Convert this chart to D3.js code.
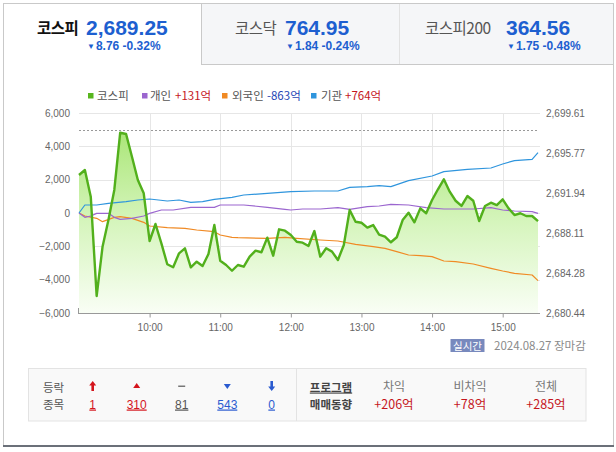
<!DOCTYPE html>
<html><head><meta charset="utf-8">
<script src="https://cdn.jsdelivr.net/npm/d3@7"></script>
<style>
html,body{margin:0;padding:0;background:#fff;}
svg{display:block;}
text{font-family:"Liberation Sans",Arial,sans-serif;}
.kr{font-family:"Noto Sans CJK KR","Noto Sans",sans-serif;}
</style></head><body>
<svg id="c" width="616" height="452"></svg>
<script>
// ---------------- DATA ----------------
const tabNames = ["코스피", "코스닥", "코스피200"];
const tabValues = ["2,689.25", "764.95", "364.56"];
const tabChanges = ["8.76 -0.32%", "1.84 -0.24%", "1.75 -0.48%"];

const legendNames = ["코스피", "개인", "외국인", "기관"];
const legendAmounts = ["", "+131억", "-863억", "+764억"];

const prevClose = 2698.01;
const leftTicks = [-6000, -4000, -2000, 0, 2000, 4000, 6000];
const rightTicks = [2680.44, 2684.28, 2688.11, 2691.94, 2695.77, 2699.61];
const xTickLabels = ["10:00", "11:00", "12:00", "13:00", "14:00", "15:00"];

const kospiTimes = ["09:00","09:05","09:10","09:15","09:20","09:25","09:30","09:35","09:40","09:45","09:50","09:55",
"10:00","10:05","10:10","10:15","10:20","10:25","10:30","10:35","10:40","10:45","10:50","10:55",
"11:00","11:05","11:10","11:15","11:20","11:25","11:30","11:35","11:40","11:45","11:50","11:55",
"12:00","12:05","12:10","12:15","12:20","12:25","12:30","12:35","12:40","12:45","12:50","12:55",
"13:00","13:05","13:10","13:15","13:20","13:25","13:30","13:35","13:40","13:45","13:50","13:55",
"14:00","14:05","14:10","14:15","14:20","14:25","14:30","14:35","14:40","14:45","14:50","14:55",
"15:00","15:05","15:10","15:15","15:20","15:25","15:30"];
const kospiValues = [2693.67,2694.15,2691.59,2682.07,2686.79,2689.35,2692.23,2697.72,2697.60,2695.42,2693.19,2691.91,
2687.34,2688.97,2687.12,2685.11,2684.82,2686.16,2686.64,2684.82,2685.36,2684.94,2686.09,2688.87,
2685.45,2685.04,2684.49,2685.04,2684.88,2685.84,2686.41,2686.26,2687.66,2685.93,2688.46,2688.33,
2687.92,2687.27,2687.18,2686.86,2688.30,2685.84,2686.64,2686.32,2685.52,2686.96,2690.31,2689.19,
2689.09,2688.62,2688.87,2687.96,2687.75,2687.22,2687.70,2689.35,2690.05,2689.13,2690.47,2690.00,
2691.27,2692.30,2693.25,2692.07,2691.20,2690.70,2691.65,2691.20,2689.26,2690.70,2691.01,2690.79,
2691.34,2690.47,2689.83,2690.00,2689.74,2689.74,2689.25];

const instTimes = ["09:00","09:05","09:15","09:25","09:40","09:50","10:00","10:15","10:25","10:35","10:45","10:55","11:10","11:20","11:40","12:00","12:20","12:40","12:50","13:05","13:15","13:25","13:40","14:00","14:10","14:30","14:50","15:00","15:10","15:25","15:30"];
const instValues = [0,480,480,580,680,780,840,720,780,640,680,820,940,1080,1180,1280,1320,1320,1540,1580,1640,1580,1940,2220,2480,2620,2700,2940,3140,3220,3620];

const indivTimes = ["09:00","09:05","09:10","09:15","09:25","09:30","09:35","09:45","09:55","10:00","10:10","10:20","10:35","10:55","11:00","11:20","11:40","11:55","12:00","12:10","12:25","12:40","12:50","13:05","13:15","13:25","13:40","13:55","14:10","14:35","14:50","15:00","15:10","15:25","15:30"];
const indivValues = [0,-260,-180,-20,-20,-260,-380,-320,-180,-20,180,180,340,340,480,480,340,220,180,240,240,320,220,380,420,520,480,320,240,240,320,180,120,80,-20];

const foreignTimes = ["09:00","09:05","09:15","09:20","09:30","09:35","09:45","09:55","10:00","10:15","10:30","10:40","10:55","11:00","11:10","11:15","11:40","11:55","12:05","12:25","12:40","12:55","13:10","13:20","13:30","13:40","13:50","14:00","14:10","14:20","14:35","14:50","15:00","15:10","15:25","15:30"];
const foreignValues = [0,-180,-320,-520,-260,-220,-320,-560,-780,-880,-920,-1020,-1120,-1320,-1460,-1480,-1520,-1460,-1520,-1620,-1680,-1880,-2020,-2120,-2320,-2520,-2560,-2620,-2880,-2920,-3060,-3320,-3480,-3620,-3720,-4060];

const breadthCounts = ["1", "310", "81", "543", "0"];
const programLabels = ["차익", "비차익", "전체"];
const programValues = ["+206억", "+78억", "+285억"];
const dateLabel = "2024.08.27 장마감";

// ---------------- DRAW ----------------
const svg = d3.select("#c");
const parse = d3.timeParse("%H:%M");
const PL = 79, PR = 538, PT = 113, PB = 313;

const x = d3.scaleTime().domain([parse("09:00"), parse("15:30")]).range([PL, PR]);
const yL = d3.scaleLinear().domain([-6000, 6000]).range([PB, PT]);
const yR = d3.scaleLinear().domain([2680.44, 2699.61]).range([PB, PT]);

const blue = "#1d5fd0", red = "#d0112b", grey = "#555";

// frame
svg.append("rect").attr("x",0).attr("y",0).attr("width",616).attr("height",452).attr("fill","#fff");
svg.append("rect").attr("x",201.5).attr("y",3.5).attr("width",412).attr("height",60.5).attr("fill","#f5f6f8");
svg.append("line").attr("x1",3).attr("x2",614).attr("y1",3.5).attr("y2",3.5).attr("stroke","#c9c9c9");
svg.append("line").attr("x1",3.5).attr("x2",3.5).attr("y1",3).attr("y2",446).attr("stroke","#c9c9c9");
svg.append("line").attr("x1",613.5).attr("x2",613.5).attr("y1",3).attr("y2",446).attr("stroke","#c9c9c9");
svg.append("line").attr("x1",201.5).attr("x2",201.5).attr("y1",3).attr("y2",64).attr("stroke","#c9c9c9");
svg.append("line").attr("x1",399.5).attr("x2",399.5).attr("y1",4).attr("y2",64).attr("stroke","#e2e2e2");
svg.append("line").attr("x1",201).attr("x2",614).attr("y1",64.5).attr("y2",64.5).attr("stroke","#c9c9c9");
svg.append("line").attr("x1",3).attr("x2",614).attr("y1",446).attr("y2",446).attr("stroke","#6b7079").attr("stroke-width",2);

// tabs
const tabPos = [{n:37,v:86,c:87,bold:true,col:"#111"},{n:235,v:285,c:286,bold:false,col:"#555"},{n:425,v:506,c:507,bold:false,col:"#555"}];
tabNames.forEach((name,i)=>{
  const p = tabPos[i];
  svg.append("text").attr("class","kr").attr("x",p.n).attr("y",34).attr("font-size",15.5)
    .attr("font-weight",p.bold?"bold":"normal").attr("fill",p.col).attr("letter-spacing",-0.5).text(name);
  svg.append("text").attr("x",p.v).attr("y",35).attr("font-size",21).attr("font-weight","bold")
    .attr("fill",blue).text(tabValues[i]);
  const t = svg.append("text").attr("x",p.c).attr("y",50).attr("font-size",12).attr("font-weight","bold").attr("fill",blue);
  t.append("tspan").attr("font-size",8).attr("dy",-1).text("▼");
  t.append("tspan").attr("dy",1).attr("dx",1).text(tabChanges[i]);
});

// legend
const legColors = ["#58b61e","#9b66cf","#f08a24","#2f95dd"];
const legSq = [88,142,222,311], legTx = [97,150,232,321], legVal = [0,175,267,345];
const amtColors = ["", "#c5161d", "#1f46b4", "#c5161d"];
legendNames.forEach((n,i)=>{
  svg.append("rect").attr("x",legSq[i]).attr("y",93).attr("width",5.5).attr("height",5.5).attr("fill",legColors[i]);
  svg.append("text").attr("class","kr").attr("x",legTx[i]).attr("y",99.5).attr("font-size",11.5).attr("fill",grey).text(n);
  if (legendAmounts[i]) svg.append("text").attr("class","kr").attr("x",legVal[i]).attr("y",99.5).attr("font-size",11.5).attr("fill",amtColors[i]).text(legendAmounts[i]);
});

// grid
const hourTicks = xTickLabels.map(parse);
svg.append("g").selectAll("line").data(leftTicks).join("line")
  .attr("x1",PL).attr("x2",540).attr("y1",d=>Math.round(yL(d))+0.5).attr("y2",d=>Math.round(yL(d))+0.5)
  .attr("stroke","#e6e6e6");
svg.append("g").selectAll("line").data(hourTicks).join("line")
  .attr("x1",d=>Math.round(x(d))+0.5).attr("x2",d=>Math.round(x(d))+0.5).attr("y1",PT).attr("y2",PB)
  .attr("stroke","#e6e6e6");

// gradient
const defs = svg.append("defs");
const grad = defs.append("linearGradient").attr("id","gf").attr("gradientUnits","userSpaceOnUse")
  .attr("x1",0).attr("x2",0).attr("y1",PT).attr("y2",PB);
grad.append("stop").attr("offset","0%").attr("stop-color","#a2e36a");
grad.append("stop").attr("offset","55%").attr("stop-color","#d6f5bd");
grad.append("stop").attr("offset","100%").attr("stop-color","#f9fef5");

const kospi = kospiTimes.map((t,i)=>({t:parse(t), v:kospiValues[i]}));
svg.append("path").datum(kospi).attr("fill","url(#gf)")
  .attr("d", d3.area().x(d=>x(d.t)).y0(PB).y1(d=>yR(d.v)));

// previous close dashed line
svg.append("line").attr("x1",PL).attr("x2",PR).attr("y1",Math.round(yR(prevClose))+0.5).attr("y2",Math.round(yR(prevClose))+0.5)
  .attr("stroke","#999").attr("stroke-dasharray","2,2");

// investor lines
const mk = (ts,vs)=>ts.map((t,i)=>({t:parse(t), v:vs[i]}));
const lineL = d3.line().x(d=>x(d.t)).y(d=>yL(d.v));
[[foreignTimes,foreignValues,legColors[2]],[indivTimes,indivValues,legColors[1]],[instTimes,instValues,legColors[3]]].forEach(([ts,vs,c])=>{
  svg.append("path").datum(mk(ts,vs)).attr("fill","none").attr("stroke",c).attr("stroke-width",1.2)
    .attr("stroke-linejoin","round").attr("d",lineL);
});

// kospi line
svg.append("path").datum(kospi).attr("fill","none").attr("stroke","#52b01c").attr("stroke-width",2.4)
  .attr("stroke-linejoin","round").attr("d", d3.line().x(d=>x(d.t)).y(d=>yR(d.v)));

// axes
const axL = svg.append("g").attr("transform",`translate(${PL-6},0)`)
  .call(d3.axisLeft(yL).tickValues(leftTicks).tickFormat(d3.format(",")).tickSize(0));
axL.select(".domain").remove();
axL.selectAll("text").attr("font-size",10).attr("fill","#666").attr("font-family","'Liberation Sans',Arial,sans-serif");

const axR = svg.append("g").attr("transform",`translate(546,0)`)
  .call(d3.axisRight(yR).tickValues(rightTicks).tickFormat(d3.format(",.2f")).tickSize(0).tickPadding(0));
axR.select(".domain").remove();
axR.selectAll("text").attr("font-size",10).attr("fill","#666").attr("font-family","'Liberation Sans',Arial,sans-serif");

const axB = svg.append("g").attr("transform",`translate(0,${PB+0.5})`)
  .call(d3.axisBottom(x).tickValues(hourTicks).tickFormat(d3.timeFormat("%H:%M")).tickSize(4).tickSizeOuter(0).tickPadding(6));
axB.select(".domain").attr("stroke","#999").attr("d",`M${PL-1},0H540`);
axB.selectAll(".tick line").attr("stroke","#999");
axB.selectAll("text").attr("font-size",10).attr("fill","#666").attr("font-family","'Liberation Sans',Arial,sans-serif");
svg.append("line").attr("x1",PL-0.5).attr("x2",PL-0.5).attr("y1",PB-5).attr("y2",PB+0.5).attr("stroke","#999");

// realtime badge + date
svg.append("rect").attr("x",450.5).attr("y",339).attr("width",34).attr("height",13).attr("fill","#7889bd");
svg.append("text").attr("class","kr").attr("x",467.5).attr("y",349.5).attr("text-anchor","middle")
  .attr("font-size",10.5).attr("fill","#fff").text("실시간");
svg.append("text").attr("class","kr").attr("x",494).attr("y",349.5).attr("font-size",11.5).attr("fill","#8a8a8a").text(dateLabel);

// bottom panel
svg.append("rect").attr("x",28.5).attr("y",368.5).attr("width",557.5).attr("height",52.5)
  .attr("fill","#f9f9f9").attr("stroke","#e3e3e3");
svg.append("line").attr("x1",296.5).attr("x2",296.5).attr("y1",369).attr("y2",421).attr("stroke","#e3e3e3");

svg.append("text").attr("class","kr").attr("x",53.5).attr("y",391.5).attr("text-anchor","middle").attr("font-size",11.5).attr("fill",grey).text("등락");
svg.append("text").attr("class","kr").attr("x",53.5).attr("y",408.5).attr("text-anchor","middle").attr("font-size",11.5).attr("fill",grey).text("종목");

const bx = [92.7,136.7,181.7,227.3,271.7];
const bcol = ["#d4141c","#d4141c","#777","#2a5bd0","#2a5bd0"];
const icons = [
  (cx)=>`M${cx},381 L${cx+3.5},385.5 L${cx+1.3},385.5 L${cx+1.3},391 L${cx-1.3},391 L${cx-1.3},385.5 L${cx-3.5},385.5 Z`,
  (cx)=>`M${cx},383 L${cx+3.5},388 L${cx-3.5},388 Z`,
  (cx)=>`M${cx-3.5},385.5 H${cx+3.5} V387 H${cx-3.5} Z`,
  (cx)=>`M${cx-3.5},384 L${cx+3.5},384 L${cx},389 Z`,
  (cx)=>`M${cx},391 L${cx+3.5},386.5 L${cx+1.3},386.5 L${cx+1.3},381 L${cx-1.3},381 L${cx-1.3},386.5 L${cx-3.5},386.5 Z`
];
breadthCounts.forEach((c,i)=>{
  svg.append("path").attr("d",icons[i](bx[i])).attr("fill",bcol[i]);
  svg.append("text").attr("x",bx[i]).attr("y",408.5).attr("text-anchor","middle").attr("font-size",12)
    .attr("fill",bcol[i]==="#777"?"#555":bcol[i]).attr("text-decoration","underline").text(c);
});

svg.append("text").attr("class","kr").attr("x",331).attr("y",391.5).attr("text-anchor","middle").attr("font-size",11.5)
  .attr("font-weight","bold").attr("fill","#444").attr("text-decoration","underline").text("프로그램");
svg.append("text").attr("class","kr").attr("x",331).attr("y",408.5).attr("text-anchor","middle").attr("font-size",11.5)
  .attr("font-weight","bold").attr("fill","#444").text("매매동향");
const px = [394,470,546];
programLabels.forEach((l,i)=>{
  svg.append("text").attr("class","kr").attr("x",px[i]).attr("y",390.5).attr("text-anchor","middle").attr("font-size",12).attr("fill","#777").text(l);
  svg.append("text").attr("class","kr").attr("x",px[i]).attr("y",409).attr("text-anchor","middle").attr("font-size",12.5).attr("fill","#c5161d").text(programValues[i]);
});
</script>
</body></html>
